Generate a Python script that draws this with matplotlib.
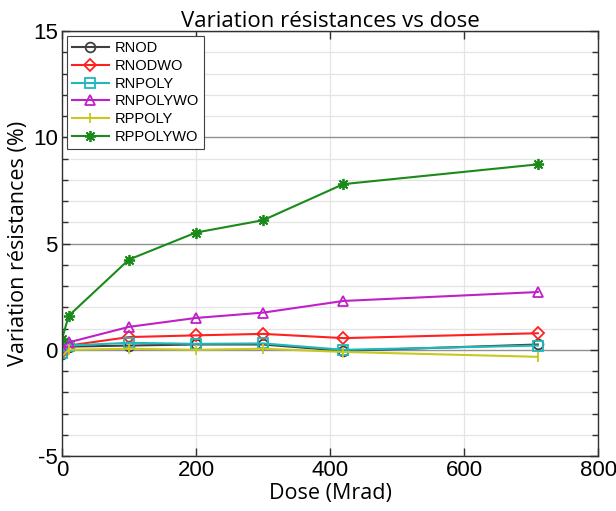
import numpy as np
import matplotlib.pyplot as plt
from matplotlib.ticker import MultipleLocator

plt.rcParams['axes.unicode_minus'] = False

# Dose points (Mrad)
dose = [0, 10, 100, 200, 300, 420, 710]

rnod = [-0.2, 0.15, 0.2, 0.25, 0.25, -0.05, 0.25]
rnodwo = [-0.1, 0.2, 0.6, 0.68, 0.75, 0.55, 0.78]
rnpoly = [-0.15, 0.2, 0.33, 0.28, 0.3, 0.0, 0.2]
rnpolywo = [0.1, 0.35, 1.08, 1.5, 1.75, 2.3, 2.72]
rppoly = [-0.3, 0.0, 0.05, 0.0, 0.05, -0.1, -0.33]
rppolywo = [0.5, 1.6, 4.25, 5.52, 6.1, 7.8, 8.73]

series = [
    ('RNOD', rnod, '#404040', 'o'),
    ('RNODWO', rnodwo, '#ff2020', 'D'),
    ('RNPOLY', rnpoly, '#20b8b8', 's'),
    ('RNPOLYWO', rnpolywo, '#c020c8', '^'),
    ('RPPOLY', rppoly, '#c8c820', '|'),
    ('RPPOLYWO', rppolywo, '#1a8a1a', (8, 2, 0)),
]

fig = plt.figure(figsize=(6.16, 5.11), dpi=100)
ax = fig.add_axes([0.1006, 0.1076, 0.8704, 0.8314])

for name, vals, color, mk in series:
    ms = 7 if mk != 'D' else 6
    if mk == (8, 2, 0):
        ms = 8
    ax.plot(dose, vals, color=color, marker=mk, markersize=ms,
            markerfacecolor='none', markeredgecolor=color,
            markeredgewidth=1.3, linewidth=1.5, label=name)

ax.set_xlim(0, 800)
ax.set_ylim(-5, 15)
ax.xaxis.set_major_locator(MultipleLocator(200))
ax.yaxis.set_major_locator(MultipleLocator(5))
ax.yaxis.set_minor_locator(MultipleLocator(1))

ax.grid(True, which='major', axis='y', color='#909090', linewidth=1.0)
ax.grid(True, which='minor', axis='y', color='#e4e4e4', linewidth=0.9)
ax.grid(True, which='major', axis='x', color='#e4e4e4', linewidth=0.9)
ax.set_axisbelow(True)

ax.tick_params(which='both', direction='in', top=True, right=True,
               labelsize=16, width=1.0, color='#303030', pad=3)
ax.tick_params(which='major', length=6)
ax.tick_params(which='minor', length=4)
ax.tick_params(axis='x', which='minor', top=False, bottom=False)
for lbl in ax.get_xticklabels() + ax.get_yticklabels():
    lbl.set_fontfamily('Liberation Sans')
for s in ax.spines.values():
    s.set_color('#303030')
    s.set_linewidth(1.0)

ax.set_title('Variation résistances vs dose', fontsize=16, family='Open Sans', pad=3)
ax.set_xlabel('Dose (Mrad)', fontsize=15.5, family='Open Sans', labelpad=1)
ax.set_ylabel('Variation résistances (%)', fontsize=15.5, family='Open Sans', labelpad=3)

leg = ax.legend(loc='upper left', prop={'family': 'Liberation Sans', 'size': 10.5},
                fancybox=False, edgecolor='#404040', framealpha=1,
                handlelength=2.5, handletextpad=0.4, borderaxespad=0.35,
                labelspacing=0.25, borderpad=0.35)
leg.get_frame().set_linewidth(0.8)

fig.savefig('out.png', dpi=100)
